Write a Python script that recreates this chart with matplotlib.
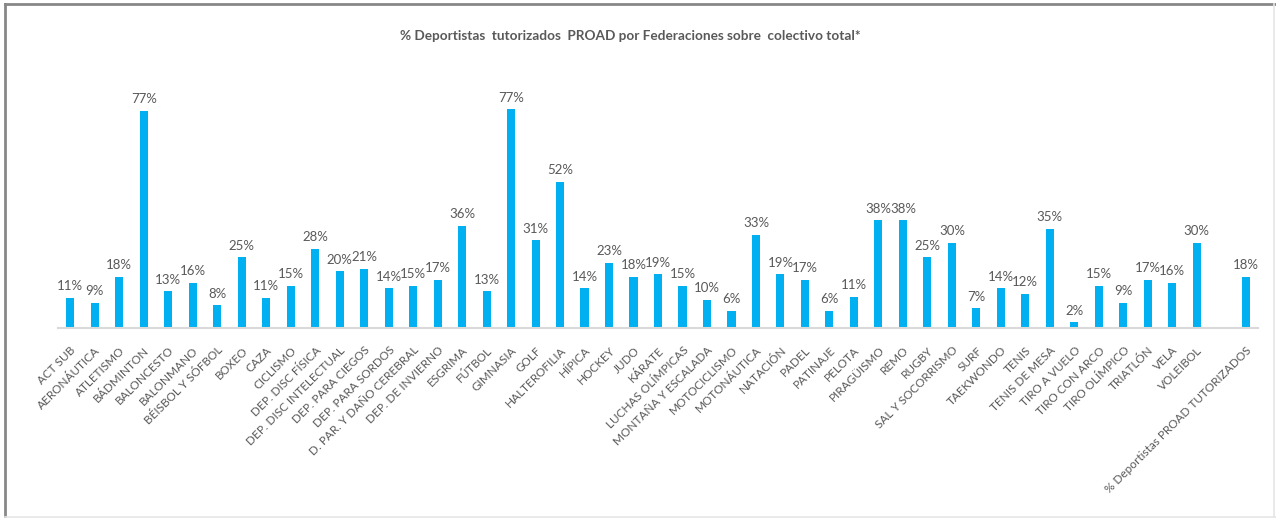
import matplotlib.pyplot as plt
from matplotlib.lines import Line2D
import numpy as np

plt.rcParams['font.family'] = ['Lato', 'DejaVu Sans']

federaciones = ['ACT SUB', 'AERONÁUTICA', 'ATLETISMO', 'BÁDMINTON', 'BALONCESTO',
                'BALONMANO', 'BÉISBOL Y SÓFBOL', 'BOXEO', 'CAZA', 'CICLISMO',
                'DEP. DISC FÍSICA', 'DEP. DISC INTELECTUAL', 'DEP. PARA CIEGOS',
                'DEP. PARA SORDOS', 'D. PAR. Y DAÑO CEREBRAL', 'DEP. DE INVIERNO',
                'ESGRIMA', 'FÚTBOL', 'GIMNASIA', 'GOLF', 'HALTEROFILIA', 'HÍPICA',
                'HOCKEY', 'JUDO', 'KÁRATE', 'LUCHAS OLÍMPICAS', 'MONTAÑA Y ESCALADA',
                'MOTOCICLISMO', 'MOTONÁUTICA', 'NATACIÓN', 'PADEL', 'PATINAJE',
                'PELOTA', 'PIRAGÜISMO', 'REMO', 'RUGBY', 'SAL Y SOCORRISMO', 'SURF',
                'TAEKWONDO', 'TENIS', 'TENIS DE MESA', 'TIRO A VUELO', 'TIRO CON ARCO',
                'TIRO OLÍMPICO', 'TRIATLÓN', 'VELA', 'VOLEIBOL', '',
                '% Deportistas PROAD TUTORIZADOS']

porcentajes = [10.6, 9.0, 18.0, 76.6, 13.0, 16.0, 8.0, 25.0, 10.6, 15.0,
               28.0, 20.0, 21.0, 14.0, 15.0, 17.0, 36.0, 13.0, 77.2, 31.0,
               51.6, 14.0, 23.0, 18.0, 19.0, 15.0, 10.0, 6.0, 33.0, 19.0,
               17.0, 6.0, 11.0, 38.0, 38.0, 25.0, 30.0, 7.0, 14.0, 12.0,
               35.0, 2.0, 15.0, 9.0, 17.0, 16.0, 30.0, np.nan, 18.0]

titulo = '% Deportistas  tutorizados  PROAD por Federaciones sobre  colectivo total*'

gris = '#595959'
azul = '#00B0F0'

fig = plt.figure(figsize=(12.76, 5.18), dpi=100)
ax = fig.add_axes([58/1276, 1 - 328/518, 1200/1276, 255/518])

x = np.arange(len(federaciones))
bars = ax.bar(x, porcentajes, width=0.33, color=azul)

for xi, v in zip(x, porcentajes):
    if np.isnan(v):
        continue
    ax.annotate(f'{v:.0f}%', (xi, v), xytext=(0, 4), textcoords='offset points',
                ha='center', va='bottom', fontsize=9.5, color=gris)

ax.set_xlim(-0.5, len(federaciones) - 0.5)
ax.set_ylim(0, 90)
ax.set_xticks(x)
ax.set_xticklabels(federaciones, rotation=45, ha='right', rotation_mode='anchor',
                   fontsize=8.5, color=gris)
ax.tick_params(axis='x', length=0, pad=12)
ax.set_yticks([])
for s in ['left', 'right', 'top']:
    ax.spines[s].set_visible(False)
ax.spines['bottom'].set_color('#d9d9d9')
ax.spines['bottom'].set_linewidth(1.5)

fig.text(630/1276, 1 - 36/518, titulo, ha='center', va='center',
         fontsize=9.8, fontweight='bold', color=gris)

# borde del recuadro
fig.add_artist(Line2D([5/1276, 5/1276], [0, 1 - 4/518], color='#888888', lw=2))
fig.add_artist(Line2D([5/1276, 1], [1 - 4/518, 1 - 4/518], color='#888888', lw=2))
fig.add_artist(Line2D([1274/1276, 1274/1276], [0, 1 - 4/518], color='#e6e6e6', lw=1.2))
fig.add_artist(Line2D([5/1276, 1], [1/518, 1/518], color='#e6e6e6', lw=1.2))

fig.savefig('out.png', dpi=100)
